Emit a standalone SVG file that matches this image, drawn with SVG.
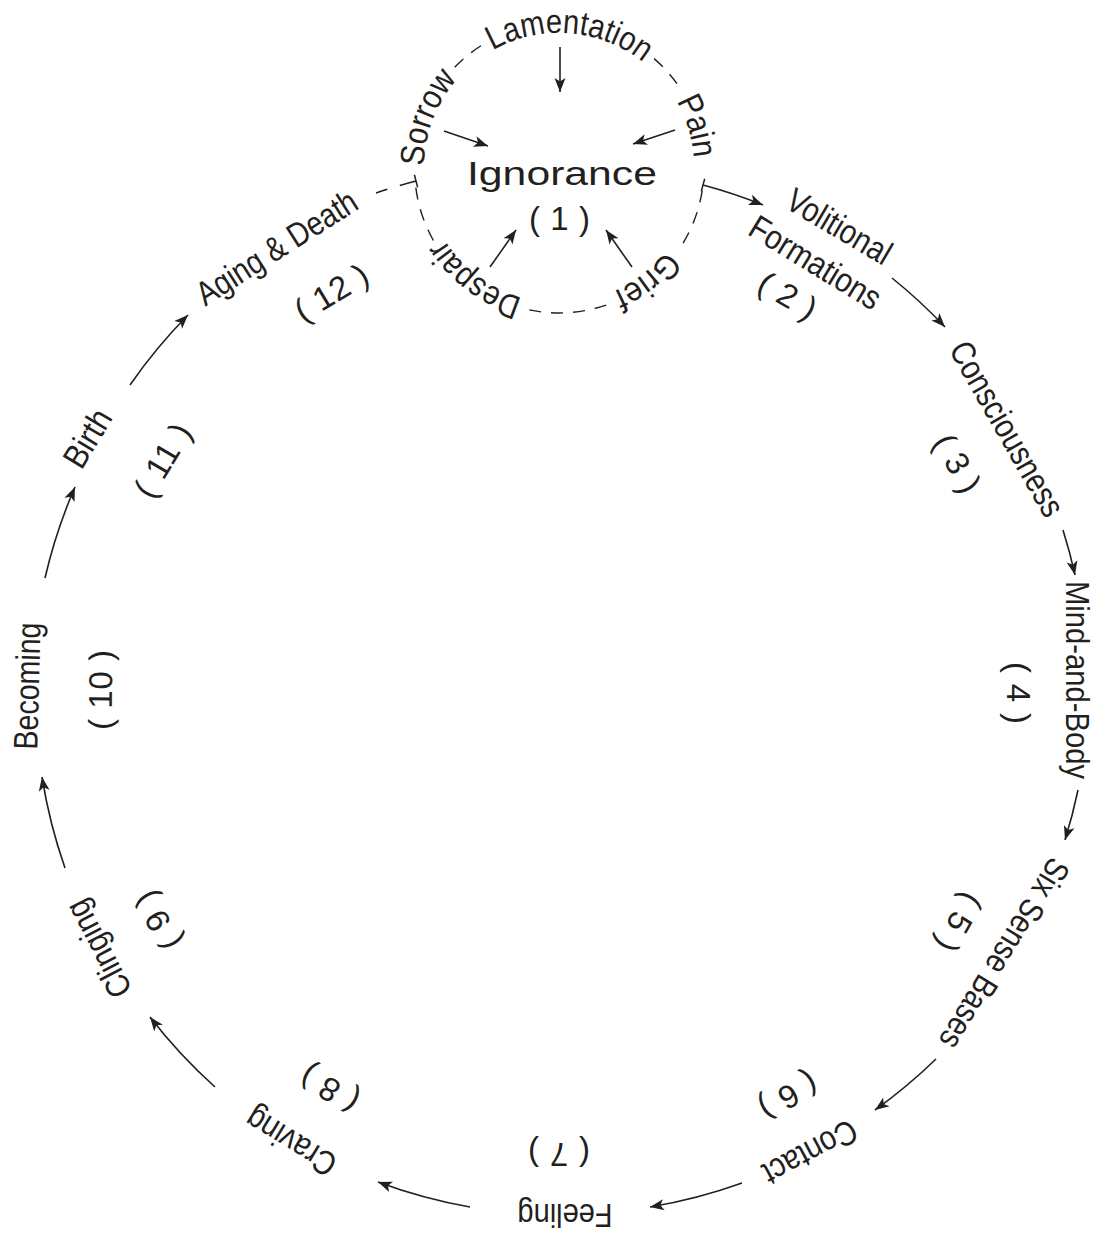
<svg xmlns="http://www.w3.org/2000/svg" xmlns:xlink="http://www.w3.org/1999/xlink" width="1103" height="1234" viewBox="0 0 1103 1234">
<style>
.lbl{font-family:"Liberation Sans",Arial,sans-serif;font-size:34px;fill:#231f20}
.sm{font-family:"Liberation Sans",Arial,sans-serif;font-size:34px;fill:#231f20}
.num{font-family:"Liberation Sans",Arial,sans-serif;font-size:33px;fill:#231f20}
.conn{fill:none;stroke:#231f20;stroke-width:1.6}
.dash{fill:none;stroke:#231f20;stroke-width:1.4;stroke-dasharray:12 10}
</style>
<defs>
<marker id="ah" markerUnits="userSpaceOnUse" viewBox="-15 -8 17 16" markerWidth="17" markerHeight="16" refX="0" refY="0" orient="auto"><path d="M0,0 L-14,-5.5 L-10.5,0 L-14,5.5 Z" fill="#231f20"/></marker>
<marker id="bar" markerUnits="userSpaceOnUse" viewBox="-2 -8 4 16" markerWidth="4" markerHeight="16" refX="0" refY="0" orient="auto"><path d="M0,-6.5 V6.5" stroke="#231f20" stroke-width="1.5"/></marker>
<path id="small" d="M559,303 A135,135 0 1 1 559,33 A135,135 0 1 1 559,303"/>
</defs>
<rect width="1103" height="1234" fill="#fff"/>

<g id="n1">
<g id="ring">
<path class="dash" d="M454.7,67.3 A145,145 0 0 1 484.3,43.7"/>
<path class="dash" d="M654.1,58.6 A145,145 0 0 1 682,91.2"/>
<path class="dash" d="M702.2,190.7 A145,145 0 0 1 679.2,249.1"/>
<path class="dash" d="M606.2,305.1 A145,145 0 0 1 528.9,309.8"/>
<path class="dash" d="M433.4,240.5 A145,145 0 0 1 415.5,185"/>
</g>
<text class="sm" text-anchor="middle"><textPath href="#small" startOffset="87.2" textLength="100" lengthAdjust="spacingAndGlyphs">Despair</textPath></text>
<text class="sm" text-anchor="middle"><textPath href="#small" startOffset="261.5" textLength="95" lengthAdjust="spacingAndGlyphs">Sorrow</textPath></text>
<text class="sm" text-anchor="middle"><textPath href="#small" startOffset="434.7" textLength="160" lengthAdjust="spacingAndGlyphs">Lamentation</textPath></text>
<text class="sm" text-anchor="middle"><textPath href="#small" startOffset="596.1" textLength="60" lengthAdjust="spacingAndGlyphs">Pain</textPath></text>
<text class="sm" text-anchor="middle"><textPath href="#small" startOffset="758.6" textLength="68" lengthAdjust="spacingAndGlyphs">Grief</textPath></text>
<text class="lbl" x="562" y="185" text-anchor="middle" font-size="46" textLength="190" lengthAdjust="spacingAndGlyphs">Ignorance</text>
<text class="num" x="559.5" y="230" text-anchor="middle" font-size="30" textLength="61" lengthAdjust="spacing">( 1 )</text>
<g id="inner-arrows">
<line class="conn" x1="560" y1="47" x2="560" y2="92" marker-end="url(#ah)"/>
<line class="conn" x1="444" y1="131" x2="488" y2="146" marker-end="url(#ah)"/>
<line class="conn" x1="675" y1="130" x2="633" y2="144" marker-end="url(#ah)"/>
<line class="conn" x1="490" y1="267" x2="516" y2="230" marker-end="url(#ah)"/>
<line class="conn" x1="632" y1="267" x2="606" y2="230" marker-end="url(#ah)"/>
</g>
</g>

<g id="n2">
<g transform="translate(839,227) rotate(30.5)"><text class="lbl" x="0" y="11" text-anchor="middle" textLength="116" lengthAdjust="spacingAndGlyphs">Volitional</text></g>
<g transform="translate(815,263) rotate(31.5)"><text class="lbl" x="0" y="11" text-anchor="middle" textLength="148" lengthAdjust="spacingAndGlyphs">Formations</text></g>
<g transform="translate(788,295) rotate(30)"><text class="num" x="0" y="12" text-anchor="middle" textLength="62" lengthAdjust="spacing">( 2 )</text></g>
</g>
<g id="n3">
<g transform="translate(1006.5,429) rotate(60.2)"><text class="lbl" x="0" y="11" text-anchor="middle" textLength="196" lengthAdjust="spacingAndGlyphs">Consciousness</text></g>
<g transform="translate(958,463) rotate(60)"><text class="num" x="0" y="12" text-anchor="middle" textLength="62" lengthAdjust="spacing">( 3 )</text></g>
</g>
<g id="n4">
<g transform="translate(1077,680) rotate(90)"><text class="lbl" x="0" y="11" text-anchor="middle" textLength="198" lengthAdjust="spacingAndGlyphs">Mind-and-Body</text></g>
<g transform="translate(1019,693) rotate(90)"><text class="num" x="0" y="12" text-anchor="middle" textLength="62" lengthAdjust="spacing">( 4 )</text></g>
</g>
<g id="n5">
<g transform="translate(1004,953.5) rotate(121.5)"><text class="lbl" x="0" y="11" text-anchor="middle" textLength="217" lengthAdjust="spacingAndGlyphs">Six Sense Bases</text></g>
<g transform="translate(960,923) rotate(119.5)"><text class="num" x="0" y="12" text-anchor="middle" textLength="62" lengthAdjust="spacing">( 5 )</text></g>
</g>
<g id="n6">
<g transform="translate(810,1152) rotate(152)"><text class="lbl" x="0" y="11" text-anchor="middle" textLength="102" lengthAdjust="spacingAndGlyphs">Contact</text></g>
<g transform="translate(789,1097) rotate(150)"><text class="num" x="0" y="12" text-anchor="middle" textLength="62" lengthAdjust="spacing">( 6 )</text></g>
</g>
<g id="n7">
<g transform="translate(565,1215) rotate(180)"><text class="lbl" x="0" y="11" text-anchor="middle" textLength="95" lengthAdjust="spacingAndGlyphs">Feeling</text></g>
<g transform="translate(559,1155) rotate(180)"><text class="num" x="0" y="12" text-anchor="middle" textLength="62" lengthAdjust="spacing">( 7 )</text></g>
</g>
<g id="n8">
<g transform="translate(291,1141.5) rotate(211.5)"><text class="lbl" x="0" y="11" text-anchor="middle" textLength="100" lengthAdjust="spacingAndGlyphs">Craving</text></g>
<g transform="translate(329,1090) rotate(210)"><text class="num" x="0" y="12" text-anchor="middle" textLength="62" lengthAdjust="spacing">( 8 )</text></g>
</g>
<g id="n9">
<g transform="translate(99,948.5) rotate(242.5)"><text class="lbl" x="0" y="11" text-anchor="middle" textLength="105" lengthAdjust="spacingAndGlyphs">Clinging</text></g>
<g transform="translate(157,921) rotate(240.5)"><text class="num" x="0" y="12" text-anchor="middle" textLength="62" lengthAdjust="spacing">( 9 )</text></g>
</g>
<g id="n10">
<g transform="translate(28,686) rotate(271.5)"><text class="lbl" x="0" y="11" text-anchor="middle" textLength="127" lengthAdjust="spacingAndGlyphs">Becoming</text></g>
<g transform="translate(100,690) rotate(270.5)"><text class="num" x="0" y="12" text-anchor="middle" textLength="80" lengthAdjust="spacing">( 10 )</text></g>
</g>
<g id="n11">
<g transform="translate(88,438.5) rotate(301)"><text class="lbl" x="0" y="11" text-anchor="middle" textLength="62" lengthAdjust="spacingAndGlyphs">Birth</text></g>
<g transform="translate(162,460) rotate(301)"><text class="num" x="0" y="12" text-anchor="middle" textLength="80" lengthAdjust="spacing">( 11 )</text></g>
</g>
<g id="n12">
<g transform="translate(277,248) rotate(-32.5)"><text class="lbl" x="0" y="11" text-anchor="middle" textLength="184" lengthAdjust="spacingAndGlyphs">Aging &amp; Death</text></g>
<g transform="translate(331,292) rotate(-31)"><text class="num" x="0" y="12" text-anchor="middle" textLength="80" lengthAdjust="spacing">( 12 )</text></g>
</g>

<g id="connectors">
<path class="conn" d="M703,185 A526,526 0 0 1 763,205" marker-start="url(#bar)" marker-end="url(#ah)"/>
<path class="conn" d="M892,278 A526,526 0 0 1 945,327" marker-end="url(#ah)"/>
<path class="conn" d="M1063,530 A526,526 0 0 1 1075,575" marker-end="url(#ah)"/>
<path class="conn" d="M1078,790 A526,526 0 0 1 1065,840" marker-end="url(#ah)"/>
<path class="conn" d="M936,1059 A526,526 0 0 1 875,1110" marker-end="url(#ah)"/>
<path class="conn" d="M742,1183 A526,526 0 0 1 650,1207" marker-end="url(#ah)"/>
<path class="conn" d="M470,1207 A526,526 0 0 1 378,1182" marker-end="url(#ah)"/>
<path class="conn" d="M215,1087 A526,526 0 0 1 150,1017" marker-end="url(#ah)"/>
<path class="conn" d="M65,868 A526,526 0 0 1 42,777" marker-end="url(#ah)"/>
<path class="conn" d="M45,578 A526,526 0 0 1 75,487" marker-end="url(#ah)"/>
<path class="conn" d="M130,385 A526,526 0 0 1 188,315" marker-end="url(#ah)"/>
<path class="conn" d="M376,193 A526,526 0 0 1 416,181" stroke-dasharray="12 13 17" stroke-width="1.4" marker-end="url(#bar)"/>
</g>
</svg>
